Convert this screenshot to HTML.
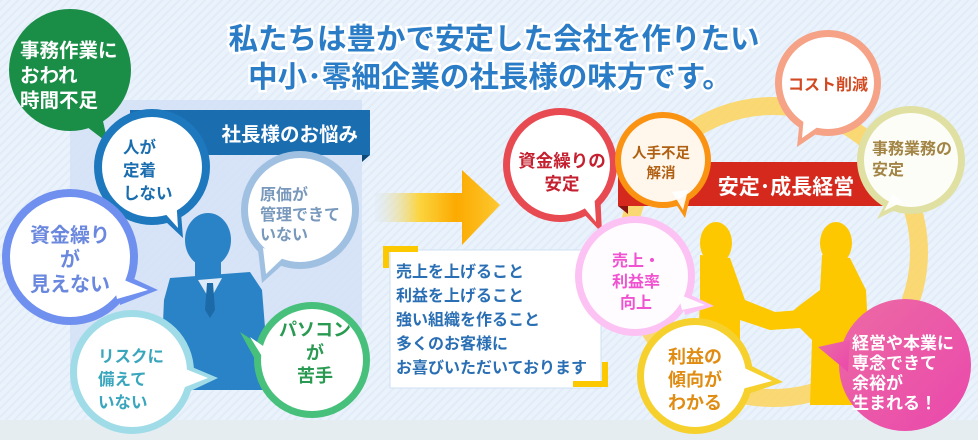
<!DOCTYPE html>
<html><head><meta charset="utf-8"><style>
html,body{margin:0;padding:0;width:978px;height:440px;overflow:hidden;background:#eaf2fb}
svg{display:block}
text{font-family:"Liberation Sans","Noto Sans CJK JP",sans-serif;font-weight:bold}
</style></head><body>
<svg width="978" height="440" viewBox="0 0 978 440" xmlns="http://www.w3.org/2000/svg">
<defs>
<pattern id="st" width="6" height="6" patternUnits="userSpaceOnUse" patternTransform="rotate(45)">
<rect width="6" height="6" fill="#eaf2fb"/><rect width="2" height="6" fill="#e2ecf8"/></pattern>
<linearGradient id="ar" x1="0" x2="1" y1="0" y2="0">
<stop offset="0" stop-color="#dbe8f8" stop-opacity="0.3"/><stop offset="0.35" stop-color="#fbd540"/><stop offset="0.65" stop-color="#fcaa00"/><stop offset="1" stop-color="#fcc830"/></linearGradient>
<linearGradient id="pk" x1="0" x2="1" y1="0" y2="1">
<stop offset="0" stop-color="#ec6aa4"/><stop offset="1" stop-color="#ea48ac"/></linearGradient>
</defs>
<rect width="978" height="440" fill="url(#st)"/>
<rect y="420" width="978" height="20" fill="#e5edf1"/>
<!-- title -->
<g font-size="29.5" fill="#2a7cc6" stroke="#fff" stroke-width="5" paint-order="stroke" text-anchor="middle">
<text x="494" y="49">私たちは豊かで安定した会社を作りたい</text>
<text x="490" y="87">中小･零細企業の社長様の味方です。</text>
</g>
<!-- left panel -->
<rect x="70" y="100" width="292" height="290" fill="#d3e1f6" opacity="0.85"/>
<rect x="130" y="110" width="240" height="45" fill="#1a6daf"/>
<polygon points="362,155 370,155 362,162" fill="#0d4a7a"/>
<text x="358" y="141" font-size="19.5" fill="#fff" text-anchor="end">社長様のお悩み</text>
<!-- man -->
<g fill="#2a83c6">
<ellipse cx="208" cy="240" rx="23" ry="27"/>
<rect x="195" y="255" width="26" height="25"/>
<path d="M170 278 L250 272 L262 290 L270 390 L160 390 L164 300 Z"/>
</g>
<path d="M198 280 L210 300 L222 278 Z" fill="#dfeaf8"/>
<path d="M207 283 L213 283 L215 310 L210 318 L205 310 Z" fill="#1d6aa8"/>
<!-- arrow -->
<polygon points="375,193 462,193 462,170 500,205 462,245 462,222 375,222" fill="url(#ar)"/>
<!-- text box -->
<rect x="390" y="250" width="211" height="138" fill="#fff" stroke="#cfe0f2"/>
<polyline points="386,268 386,249 418,249" fill="none" stroke="#fcc800" stroke-width="6"/>
<polyline points="573,384 605,384 605,362" fill="none" stroke="#fcc800" stroke-width="6"/>
<g font-size="16" fill="#2a6fb4">
<text x="396" y="277">売上を上げること</text>
<text x="396" y="301">利益を上げること</text>
<text x="396" y="325">強い組織を作ること</text>
<text x="396" y="349">多くのお客様に</text>
<text x="396" y="373">お喜びいただいております</text>
</g>
<!-- ring -->
<circle cx="773" cy="252" r="146" fill="none" stroke="#fdd55c" stroke-width="18" opacity="0.85"/>
<!-- handshake -->
<g fill="#fdc800">
<ellipse cx="716" cy="243" rx="16" ry="21"/>
<path d="M700 255 L730 258 L745 300 L775 312 L800 310 L805 325 L770 330 L740 320 L740 405 L695 405 L700 300 Z"/>
<ellipse cx="836" cy="243" rx="16" ry="21"/>
<path d="M822 255 L850 258 L866 290 L872 405 L810 405 L812 340 L800 328 L770 330 L800 305 L820 290 Z"/>
</g>
<!-- banner -->
<rect x="618" y="162" width="307" height="44" fill="#d5291e"/>
<polygon points="618,206 628,206 628,214" fill="#8a1510"/>
<polygon points="925,206 915,206 915,214" fill="#8a1510"/>
<text x="786" y="194" font-size="21" fill="#fff" text-anchor="middle">安定･成長経営</text>

<!-- green -->
<g fill="#1a8d47"><circle cx="70" cy="70" r="61"/><path d="M78 120 L108 143 L100 108 Z"/></g>
<g font-size="19.5" fill="#fff"><text x="20" y="57">事務作業に</text><text x="20" y="82">おわれ</text><text x="20" y="107">時間不足</text></g>

<!-- 人が -->
<g fill="#1e78be"><circle cx="152" cy="167" r="58"/><path d="M148 205 L183 238 L180 200 Z"/></g>
<g fill="#fff"><circle cx="152" cy="167" r="50"/><path d="M153 200 L178 228 L176 196 Z"/></g>
<g font-size="16.5" fill="#1a6daf"><text x="123" y="153">人が</text><text x="123" y="176">定着</text><text x="123" y="199">しない</text></g>

<!-- 原価 -->
<g fill="#a0c0e2"><circle cx="300" cy="210" r="59"/><path d="M258 250 L262 283 L290 258 Z"/></g>
<g fill="#fff"><circle cx="300" cy="210" r="52"/><path d="M263 248 L266 274 L287 254 Z"/></g>
<g font-size="16" fill="#7898bc"><text x="260" y="200">原価が</text><text x="260" y="220">管理できて</text><text x="260" y="240">いない</text></g>

<!-- 資金繰り -->
<g fill="#7090f0"><circle cx="70" cy="257" r="68"/><path d="M115 270 L158 290 L120 305 Z"/></g>
<g fill="#fff"><circle cx="70" cy="257" r="60"/><path d="M112 275 L148 290 L117 299 Z"/></g>
<g font-size="20" fill="#6b88df" text-anchor="middle"><text x="70" y="242">資金繰り</text><text x="70" y="266">が</text><text x="70" y="291">見えない</text></g>

<!-- パソコン -->
<g fill="#47c07c"><circle cx="312" cy="360" r="58"/><path d="M260 345 L240 332 L262 372 Z"/></g>
<g fill="#fff"><circle cx="312" cy="360" r="51"/><path d="M266 348 L250 337 L268 366 Z"/></g>
<g font-size="18" fill="#2a9a52" text-anchor="middle"><text x="315" y="336">パソコン</text><text x="315" y="359">が</text><text x="315" y="382">苦手</text></g>

<!-- リスク -->
<g fill="#a0dce8"><circle cx="132" cy="372" r="62"/><path d="M180 362 L218 378 L182 395 Z"/></g>
<g fill="#fff"><circle cx="132" cy="372" r="55"/><path d="M178 366 L208 378 L180 389 Z"/></g>
<g font-size="16.5" fill="#3aa6bd"><text x="98" y="362">リスクに</text><text x="98" y="385">備えて</text><text x="98" y="408">いない</text></g>

<!-- 資金繰りの安定 -->
<g fill="#e84a52"><circle cx="560" cy="165" r="57"/><path d="M575 205 L602 233 L600 190 Z"/></g>
<g fill="#fff"><circle cx="560" cy="165" r="50"/><path d="M578 200 L596 222 L594 190 Z"/></g>
<g font-size="17.5" fill="#c52030" text-anchor="middle"><text x="562" y="167">資金繰りの</text><text x="562" y="190">安定</text></g>

<!-- コスト -->
<g fill="#f5a286"><circle cx="828" cy="83" r="53"/><path d="M800 118 L797 147 L825 128 Z"/></g>
<g fill="#fff"><circle cx="828" cy="83" r="46"/><path d="M804 115 L802 138 L822 124 Z"/></g>
<text x="828" y="90" font-size="16" fill="#d24a22" text-anchor="middle">コスト削減</text>

<!-- 人手 -->
<g fill="#fa9212"><circle cx="663" cy="160" r="48"/><path d="M670 195 L685 218 L692 190 Z"/></g>
<g fill="#fff" fill-opacity="0.92"><circle cx="663" cy="160" r="42"/><path d="M672 192 L683 210 L688 190 Z"/></g>
<g font-size="14.5" fill="#b06012" text-anchor="middle"><text x="661" y="158">人手不足</text><text x="661" y="178">解消</text></g>

<!-- 事務業務 -->
<g fill="#dfe0a2"><circle cx="911" cy="160" r="54"/><path d="M890 195 L877 219 L905 205 Z"/></g>
<g fill="#fff" fill-opacity="0.92"><circle cx="911" cy="160" r="47"/><path d="M893 194 L884 211 L902 202 Z"/></g>
<g font-size="16" fill="#a28444"><text x="872" y="154">事務業務の</text><text x="872" y="175">安定</text></g>

<!-- 売上 -->
<g fill="#fcc2f4"><circle cx="635" cy="276" r="60"/><path d="M680 290 L714 306 L685 315 Z"/></g>
<g fill="#fff" fill-opacity="0.95"><circle cx="635" cy="276" r="53"/><path d="M678 294 L705 305 L682 310 Z"/></g>
<g font-size="16" fill="#f052d0" text-anchor="middle"><text x="636" y="266">売上・</text><text x="636" y="287">利益率</text><text x="636" y="308">向上</text></g>

<!-- 利益の -->
<g fill="#f6d12e"><circle cx="695" cy="376" r="58"/><path d="M740 360 L783 382 L745 395 Z"/></g>
<g fill="#fff"><circle cx="695" cy="376" r="51"/><path d="M740 366 L772 381 L742 389 Z"/></g>
<g font-size="18" fill="#e08c12" text-anchor="middle"><text x="695" y="363">利益の</text><text x="695" y="386">傾向が</text><text x="695" y="409">わかる</text></g>

<!-- 経営 pink -->
<g fill="url(#pk)"><circle cx="905" cy="365" r="66"/><path d="M850 340 L818 347 L848 372 Z"/></g>
<g font-size="17" fill="#fff"><text x="852" y="349">経営や本業に</text><text x="852" y="369">専念できて</text><text x="852" y="389">余裕が</text><text x="852" y="409">生まれる！</text></g>
</svg>
</body></html>
